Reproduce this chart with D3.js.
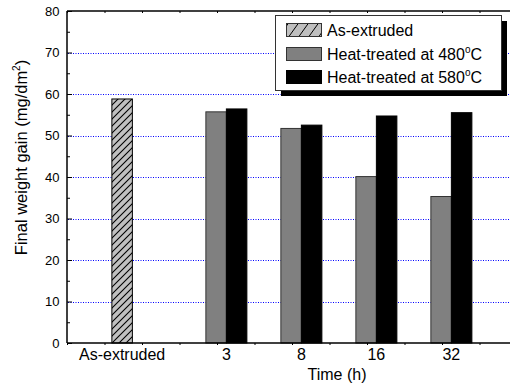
<!DOCTYPE html>
<html>
<head>
<meta charset="utf-8">
<script src="https://cdn.jsdelivr.net/npm/d3@7"></script>
<style>
  html, body { margin: 0; padding: 0; background: #fff; }
  svg { display: block; }
  text { font-family: "Liberation Sans", Arial, sans-serif; fill: #000; }
</style>
</head>
<body>
<svg id="chart" width="510" height="386"></svg>
<script>
// ---- data ----
const categories = ["As-extruded", "3", "8", "16", "32"];
const timeLabels = ["3", "8", "16", "32"];
const asExtruded = [58.8];
const heat480 = [55.7, 51.7, 40.1, 35.3];
const heat580 = [56.4, 52.5, 54.7, 55.5];
const yMajorTicks = [0, 10, 20, 30, 40, 50, 60, 70, 80];
const yMinorTicks = [5, 15, 25, 35, 45, 55, 65, 75];
const gridValues = [10, 20, 30, 40, 50, 60, 70];
const legendLabels = ["As-extruded", "Heat-treated at 480", "Heat-treated at 580"];
const xTitle = "Time (h)";
const yTitle = "Final weight gain (mg/dm";

// ---- layout ----
const L = 67, R = 517, T = 11, B = 343;
const svg = d3.select("#chart");

const y = d3.scaleLinear().domain([0, 80]).range([B, T]);
const xFrame = d3.scaleLinear().domain([0, 12]).range([L, R]);
const xCenter = d3.scaleOrdinal().domain(categories)
  .range([xFrame(1.47), xFrame(4.25), xFrame(6.25), xFrame(8.25), xFrame(10.25)]);
const bw = 20.5;

// hatch pattern
const defs = svg.append("defs");
const pat = defs.append("pattern").attr("id", "hatch")
  .attr("patternUnits", "userSpaceOnUse").attr("width", 7).attr("height", 7);
pat.append("rect").attr("width", 7).attr("height", 7).attr("fill", "#c0c0c0");
pat.append("path").attr("d", "M-1,1 l2,-2 M0,7 l7,-7 M6,8 l2,-2")
  .attr("stroke", "#000").attr("stroke-width", 1.1);
const pat2 = defs.append("pattern").attr("id", "hatchLeg")
  .attr("patternUnits", "userSpaceOnUse").attr("width", 10).attr("height", 14);
pat2.append("rect").attr("width", 10).attr("height", 14).attr("fill", "#c0c0c0");
pat2.append("path").attr("d", "M-5,14 L5,0 M5,14 L15,0")
  .attr("stroke", "#000").attr("stroke-width", 1);

// gridlines
svg.append("g").attr("class", "grid").selectAll("line").data(gridValues).join("line")
  .attr("x1", L + 1).attr("x2", R)
  .attr("y1", d => Math.round(y(d)) + 0.5).attr("y2", d => Math.round(y(d)) + 0.5)
  .style("stroke", "#0000ff").style("stroke-width", 1).style("stroke-dasharray", "1,1.5");

// bars
svg.append("g").selectAll("rect").data(asExtruded).join("rect")
  .attr("x", () => xCenter("As-extruded") - bw / 2)
  .attr("y", d => y(d)).attr("width", bw).attr("height", d => y(0) - y(d))
  .attr("fill", "url(#hatch)").attr("stroke", "#000").attr("stroke-width", 1);

svg.append("g").selectAll("rect").data(heat480).join("rect")
  .attr("x", (d, i) => xCenter(timeLabels[i]) - bw)
  .attr("y", d => y(d)).attr("width", bw).attr("height", d => y(0) - y(d))
  .attr("fill", "#808080").attr("stroke", "#333").attr("stroke-width", 1);

svg.append("g").selectAll("rect").data(heat580).join("rect")
  .attr("x", (d, i) => xCenter(timeLabels[i]))
  .attr("y", d => y(d)).attr("width", bw).attr("height", d => y(0) - y(d))
  .attr("fill", "#000").attr("stroke", "#000").attr("stroke-width", 1);

// axes
const axisStyle = g => {
  g.selectAll("path.domain").remove();
  g.selectAll("line").attr("stroke", "#000").attr("stroke-width", 1);
};

// left major
svg.append("g").attr("transform", `translate(${L},0)`)
  .call(d3.axisLeft(y).tickValues(yMajorTicks).tickSize(-5).tickPadding(7.5))
  .call(axisStyle)
  .call(g => g.selectAll("text").attr("font-size", 13)
    .attr("font-family", "Liberation Sans, Arial, sans-serif"));
// left minor
svg.append("g").attr("transform", `translate(${L},0)`)
  .call(d3.axisLeft(y).tickValues(yMinorTicks).tickSize(-3).tickFormat(""))
  .call(axisStyle);
// bottom ticks
svg.append("g").attr("transform", `translate(0,${B})`)
  .call(d3.axisBottom(xFrame).ticks(12).tickSize(2).tickFormat(""))
  .call(axisStyle);
// top ticks
svg.append("g").attr("transform", `translate(0,${T})`)
  .call(d3.axisTop(xFrame).ticks(12).tickSize(-2).tickFormat(""))
  .call(axisStyle);

// frame lines
svg.append("line").attr("x1", L).attr("x2", R).attr("y1", B).attr("y2", B)
  .attr("stroke", "#000").attr("stroke-width", 1.5);
svg.append("line").attr("x1", L).attr("x2", R).attr("y1", T).attr("y2", T)
  .attr("stroke", "#000").attr("stroke-width", 1.5);
svg.append("line").attr("x1", L).attr("x2", L).attr("y1", T).attr("y2", B)
  .attr("stroke", "#000").attr("stroke-width", 1.5);

// x category labels
svg.append("g").selectAll("text").data(categories).join("text")
  .attr("x", d => xCenter(d)).attr("y", 359.5)
  .attr("text-anchor", "middle").attr("font-size", 16).text(d => d);

// axis titles
svg.append("text").attr("x", 337).attr("y", 380).attr("text-anchor", "middle")
  .attr("font-size", 16).text(xTitle);

const yt = svg.append("text").attr("transform", "translate(27,157.5) rotate(-90)")
  .attr("text-anchor", "middle").attr("font-size", 16.5);
yt.append("tspan").text(yTitle);
yt.append("tspan").attr("font-size", 10).attr("dy", -7).text("2");
yt.append("tspan").attr("dy", 7).text(")");

// legend
const lg = svg.append("g");
lg.append("rect").attr("x", 281).attr("y", 21).attr("width", 226).attr("height", 75).attr("fill", "#000");
lg.append("rect").attr("x", 275.5).attr("y", 15.5).attr("width", 226).attr("height", 75)
  .attr("fill", "#fff").attr("stroke", "#333").attr("stroke-width", 1);
const swFill = ["url(#hatchLeg)", "#808080", "#000"];
const swStroke = ["#333", "#333", "#000"];
const rowY = [23, 47, 70];
legendLabels.forEach((lab, i) => {
  lg.append("rect").attr("x", 286.5).attr("y", rowY[i] + 0.5).attr("width", 35).attr("height", 13)
    .attr("fill", swFill[i]).attr("stroke", swStroke[i]).attr("stroke-width", 1);
  const t = lg.append("text").attr("x", 327).attr("y", rowY[i] + 13).attr("font-size", 16);
  t.append("tspan").text(lab);
  if (i > 0) {
    t.append("tspan").attr("font-size", 10).attr("dy", -7).text("o");
    t.append("tspan").attr("dy", 7).text("C");
  }
});
</script>
</body>
</html>
